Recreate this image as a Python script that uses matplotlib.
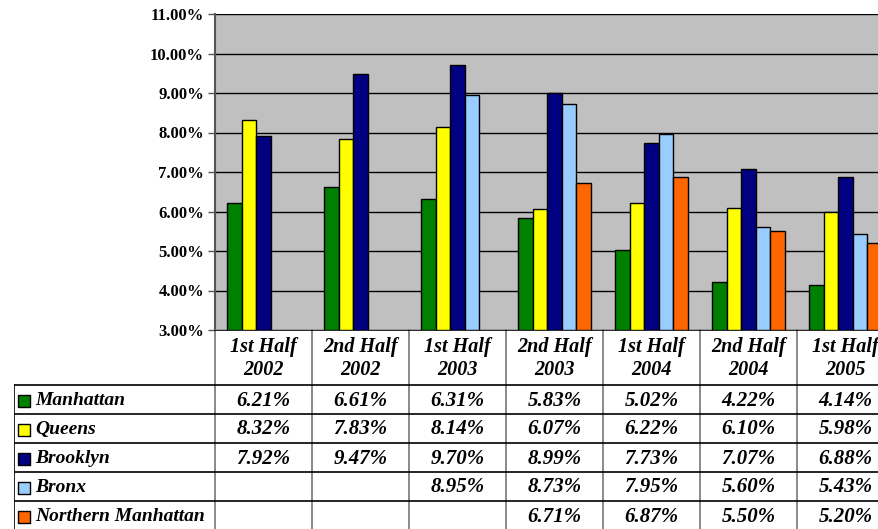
import matplotlib.pyplot as plt
import numpy as np

periods = ["1st Half\n2002", "2nd Half\n2002", "1st Half\n2003", "2nd Half\n2003",
           "1st Half\n2004", "2nd Half\n2004", "1st Half\n2005"]
boroughs = ["Manhattan", "Queens", "Brooklyn", "Bronx", "Northern Manhattan"]
manhattan = [6.21, 6.61, 6.31, 5.83, 5.02, 4.22, 4.14]
queens = [8.32, 7.83, 8.14, 6.07, 6.22, 6.10, 5.98]
brooklyn = [7.92, 9.47, 9.70, 8.99, 7.73, 7.07, 6.88]
bronx = [None, None, 8.95, 8.73, 7.95, 5.60, 5.43]
north_manhattan = [None, None, None, 6.71, 6.87, 5.50, 5.20]
series = [manhattan, queens, brooklyn, bronx, north_manhattan]
colors = ["#008000", "#FFFF00", "#000080", "#99CCFF", "#FF6600"]

W, H = 879, 529
fig = plt.figure(figsize=(W / 100, H / 100), dpi=100)
fig.patch.set_facecolor("white")

serif = ["Liberation Serif", "DejaVu Serif"]

# plot area (pixel geometry of the original, extends past the right edge)
left, top, bottom, col_w = 215, 14, 330, 97
n = len(periods)
ax = fig.add_axes([left / W, 1 - bottom / H, n * col_w / W, (bottom - top) / H])
ax.set_facecolor("#C0C0C0")
ax.set_xlim(-0.5, n - 0.5)
ax.set_ylim(3, 11)

bar_w = 0.15
start = -0.5 + 12 / col_w
x = np.arange(n)
for j, (vals, c) in enumerate(zip(series, colors)):
    xs = [xi for xi, v in zip(x, vals) if v is not None]
    ys = [v - 3 for v in vals if v is not None]
    ax.bar(np.array(xs) + start + (j + 0.5) * bar_w, ys, bottom=3, width=bar_w,
           color=c, edgecolor="black", linewidth=1.0, zorder=3)

ax.set_yticks(np.arange(3, 11.01, 1))
ax.set_yticklabels([f"{v:.2f}%" for v in np.arange(3, 11.01, 1)],
                   fontfamily=serif, fontweight="bold", fontsize=12)
ax.yaxis.grid(True, color="black", linewidth=1.0, zorder=1)
ax.set_xticks([])
ax.tick_params(axis="y", length=5, width=1, color="#555555", pad=3)
for s in ["top", "right", "bottom"]:
    ax.spines[s].set_visible(False)
ax.spines["left"].set_color("#555555")
ax.spines["left"].set_linewidth(1.5)

# data table below the plot
tab_left = 14
ax_t = fig.add_axes([tab_left / W, 0, (left + n * col_w - tab_left) / W, (H - bottom) / H])
ax_t.set_xlim(-0.5 - (left - tab_left) / col_w, n - 0.5)
ax_t.set_ylim(H, bottom)
ax_t.axis("off")

head_bottom = 385
row_h = 29
rows_y = [head_bottom + i * row_h for i in range(len(boroughs) + 1)]

# vertical separators
for i in range(n + 1):
    ax_t.plot([i - 0.5, i - 0.5], [bottom, H], color="#777777", lw=1.2, clip_on=False)
ax_t.plot([ax_t.get_xlim()[0]] * 2, [head_bottom, H], color="black", lw=1.2)
# horizontal lines
ax_t.plot([-0.5, n - 0.5], [bottom, bottom], color="black", lw=1.2)
for yy in rows_y[:-1]:
    ax_t.plot([ax_t.get_xlim()[0], n - 0.5], [yy, yy], color="black", lw=1.2)

for i, p in enumerate(periods):
    ax_t.text(i, (bottom + head_bottom) / 2 + 1, p, ha="center", va="center",
              fontfamily=serif, fontweight="bold", fontstyle="italic", fontsize=14.5,
              linespacing=1.25)

lab_x = ax_t.get_xlim()[0]
for r, (name, vals, c) in enumerate(zip(boroughs, series, colors)):
    yc = rows_y[r] + row_h / 2 + 1
    ax_t.scatter([lab_x + 10 / col_w], [yc], marker="s", s=85, color=c,
                 edgecolor="black", linewidth=1, zorder=3)
    ax_t.text(lab_x + 21 / col_w, yc, name, ha="left", va="center",
              fontfamily=serif, fontweight="bold", fontstyle="italic", fontsize=14)
    for i, v in enumerate(vals):
        if v is not None:
            ax_t.text(i, yc, f"{v:.2f}%", ha="center", va="center",
                      fontfamily=serif, fontweight="bold", fontstyle="italic", fontsize=15)

fig.savefig("out.png", dpi=100)
